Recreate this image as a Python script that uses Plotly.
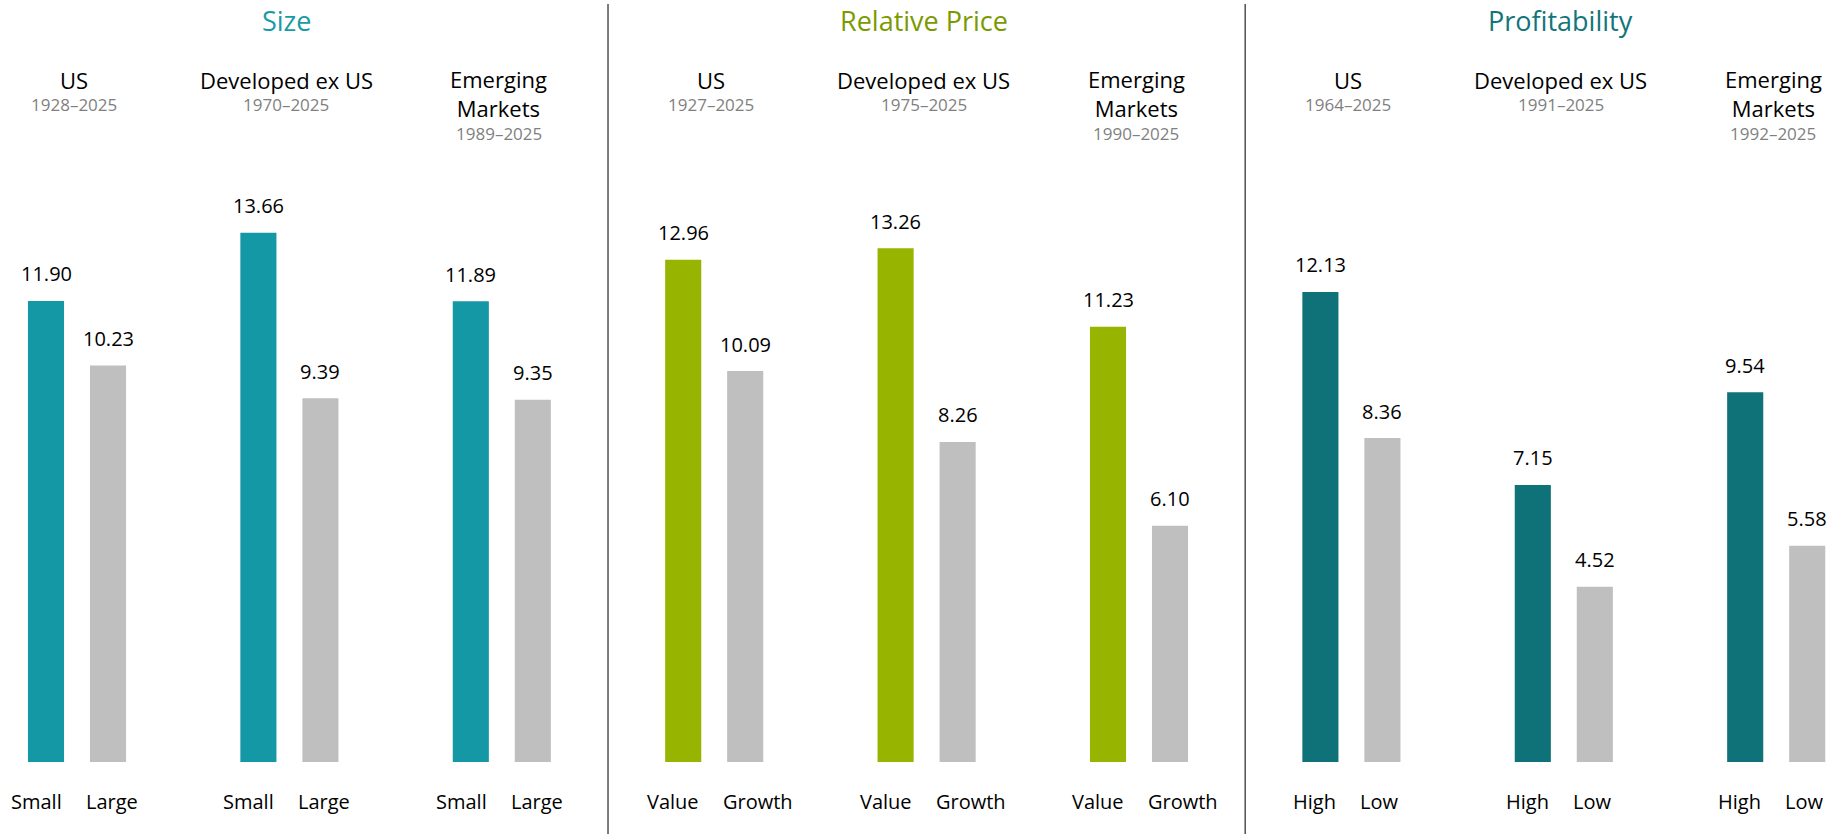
import plotly.graph_objects as go

# factor sections and their colours
sections = ["Size", "Relative Price", "Profitability"]
section_title_colors = ["#1A9AA6", "#7A9A00", "#127579"]
section_bar_colors = ["#1598A6", "#97B500", "#0E7278"]
bar_labels = [["Small", "Large"], ["Value", "Growth"], ["High", "Low"]]

# regions inside each section
regions = ["US", "Developed ex US", "Emerging<br>Markets"]
periods = [
	["1928–2025", "1970–2025", "1989–2025"],
	["1927–2025", "1975–2025", "1990–2025"],
	["1964–2025", "1991–2025", "1992–2025"],
]

# annualized returns (%), first bar of each pair = premium side, second = other side
premium_returns = [
	[11.90, 13.66, 11.89],
	[12.96, 13.26, 11.23],
	[12.13, 7.15, 9.54],
]
other_returns = [
	[10.23, 9.39, 9.35],
	[10.09, 8.26, 6.10],
	[8.36, 4.52, 5.58],
]

gray = "#BFBFBF"
font_family = "'Open Sans', 'Noto Sans', sans-serif"

pair_offset = 0.292
bar_width = 0.17

fig = go.Figure()
annotations = []

for s, section in enumerate(sections):
	xs_prem = [s * 3 + r for r in range(3)]
	xs_other = [x + pair_offset for x in xs_prem]

	fig.add_trace(
		go.Bar(
			x = xs_prem,
			y = premium_returns[s],
			width = bar_width,
			marker_color = section_bar_colors[s],
			marker_line_width = 0,
			hoverinfo = "skip",
		)
	)
	fig.add_trace(
		go.Bar(
			x = xs_other,
			y = other_returns[s],
			width = bar_width,
			marker_color = gray,
			marker_line_width = 0,
			hoverinfo = "skip",
		)
	)

	# section title, centered over middle group
	annotations.append(dict(
		x = s * 3 + 1 + pair_offset / 2, y = 1 - 21 / 834, xref = "x", yref = "paper",
		text = section, showarrow = False, yanchor = "middle", xshift = -3,
		font = dict(size = 27, color = section_title_colors[s], family = font_family),
	))

	for r in range(3):
		cx = s * 3 + r + pair_offset / 2
		two_lines = "<br>" in regions[r]
		annotations.append(dict(
			x = cx, y = 1 - 80 / 834, xref = "x", yref = "paper",
			text = regions[r], showarrow = False, yanchor = "middle" if not two_lines else "top",
			yshift = 0 if not two_lines else 18, xshift = -3,
			font = dict(size = 22, color = "#000000", family = font_family),
		))
		year_y = 133 if two_lines else 104
		annotations.append(dict(
			x = cx, y = 1 - year_y / 834, xref = "x", yref = "paper",
			text = periods[s][r], showarrow = False, yanchor = "middle", xshift = -3,
			font = dict(size = 17, color = "#7F7F7F", family = font_family),
		))

		# value labels above bars
		for x, v in [(s * 3 + r, premium_returns[s][r]), (s * 3 + r + pair_offset, other_returns[s][r])]:
			annotations.append(dict(
				x = x, y = v, text = "{:.2f}".format(v), showarrow = False,
				yanchor = "middle", yshift = 27,
				font = dict(size = 20, color = "#000000", family = font_family),
			))

		# category labels under each pair, pushed apart around the pair centre
		annotations.append(dict(
			x = cx, y = 0, text = bar_labels[s][0], showarrow = False,
			xanchor = "right", xshift = -13, yanchor = "middle", yshift = -39,
			font = dict(size = 20, color = "#000000", family = font_family),
		))
		annotations.append(dict(
			x = cx, y = 0, text = bar_labels[s][1], showarrow = False,
			xanchor = "left", xshift = 7, yanchor = "middle", yshift = -39,
			font = dict(size = 20, color = "#000000", family = font_family),
		))

# vertical dividers between sections
shapes = []
for s in range(1, 3):
	xd = (s * 3 - 1 + pair_offset + s * 3) / 2
	shapes.append(dict(
		type = "line", xref = "x", yref = "paper",
		x0 = xd, x1 = xd, y0 = 0, y1 = 1 - 4 / 834,
		line = dict(color = "#505050", width = 1.5),
	))

px_per_group = 212.4
x_first = 46
fig.update_layout(
	width = 1843,
	height = 834,
	margin = dict(l = 0, r = 0, t = 0, b = 0),
	paper_bgcolor = "white",
	plot_bgcolor = "white",
	showlegend = False,
	barmode = "overlay",
	annotations = annotations,
	shapes = shapes,
	xaxis = dict(
		range = [-x_first / px_per_group, (1843 - x_first) / px_per_group],
		visible = False, fixedrange = True,
	),
	yaxis = dict(
		range = [-72 / 38.75, (834 - 72) / 38.75],
		visible = False, fixedrange = True,
	),
)

# drop the default page margin so the figure sits at the window's corner
fig.write_html("out.html", config = {"displayModeBar": False},
	post_script = "document.body.style.margin = '0'; document.body.style.overflow = 'hidden';")
